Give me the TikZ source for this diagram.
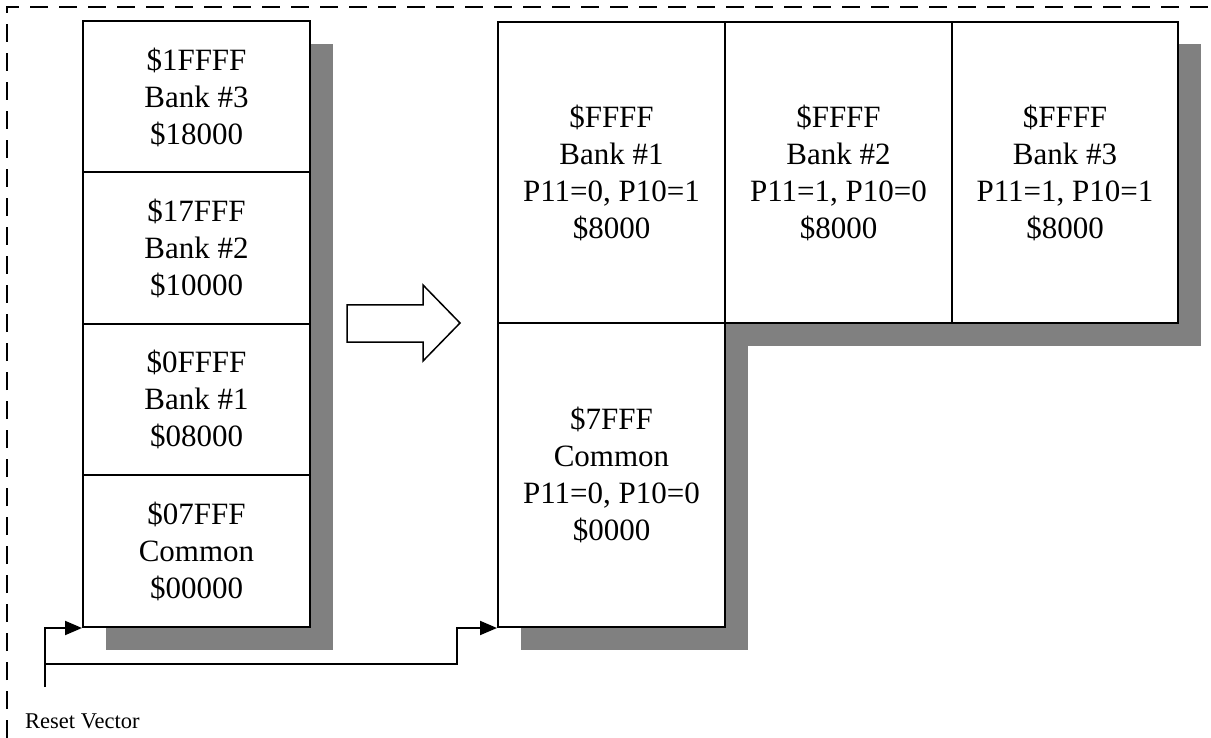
\documentclass[tikz,border=0pt]{standalone}
\usepackage{fontspec}
\setmainfont{Liberation Serif}
\usetikzlibrary{arrows.meta}
\tikzset{
  cell/.style={draw=black, line width=2pt, fill=white, inner sep=0pt, align=center,
    font=\fontsize{31}{37}\selectfont},
  shadowbox/.style={fill=black!50, draw=none},
  conn/.style={line width=2pt, -{Triangle[length=17pt,width=14pt]}},
  frame/.style={line width=1.5pt, dash pattern=on 18pt off 11pt},
}
\begin{document}
\begin{tikzpicture}[x=1pt,y=-1pt]
\useasboundingbox (0,0) rectangle (1211,738);
% dashed frame
\draw[frame] (7,738) -- (7,7) -- (1211,7);
% shadows
\fill[shadowbox] (106,44) rectangle (333,650);
\fill[shadowbox] (521,44) rectangle (1201,346);
\fill[shadowbox] (521,346) rectangle (748,650);
% left column
\node[cell, minimum width=227pt, minimum height=151pt] (b3) at (196.5,97) {\$1FFFF\\Bank \#3\\\$18000};
\node[cell, minimum width=227pt, minimum height=152pt] (b2) at (196.5,248) {\$17FFF\\Bank \#2\\\$10000};
\node[cell, minimum width=227pt, minimum height=151pt] (b1) at (196.5,399.5) {\$0FFFF\\Bank \#1\\\$08000};
\node[cell, minimum width=227pt, minimum height=152pt] (b0) at (196.5,551) {\$07FFF\\Common\\\$00000};
% right block
\node[cell, minimum width=227pt, minimum height=301pt] (r1) at (611.5,172.5) {\$FFFF\\Bank \#1\\P11=0, P10=1\\\$8000};
\node[cell, minimum width=227pt, minimum height=301pt] (r2) at (838.5,172.5) {\$FFFF\\Bank \#2\\P11=1, P10=0\\\$8000};
\node[cell, minimum width=226pt, minimum height=301pt] (r3) at (1065,172.5) {\$FFFF\\Bank \#3\\P11=1, P10=1\\\$8000};
\node[cell, minimum width=227pt, minimum height=304pt] (rc) at (611.5,475) {\$7FFF\\Common\\P11=0, P10=0\\\$0000};
% big arrow
\draw[line width=1.5pt, fill=white, line join=miter]
  (347,305) -- (423,305) -- (423,285) -- (460,323) -- (423,361) -- (423,342) -- (347,342) -- cycle;
% reset vector connectors
\coordinate (rv) at (45,687);
\coordinate (jn) at (45,664);
\coordinate (bend) at (457,664);
\draw[conn] (rv) |- (b0.south west);
\draw[conn] (jn) -- (bend) |- (rc.south west);
\node[anchor=base west, inner sep=0pt, font=\fontsize{22.5}{26}\selectfont] (rvl) at (25,728) {Reset Vector};
\end{tikzpicture}
\end{document}
